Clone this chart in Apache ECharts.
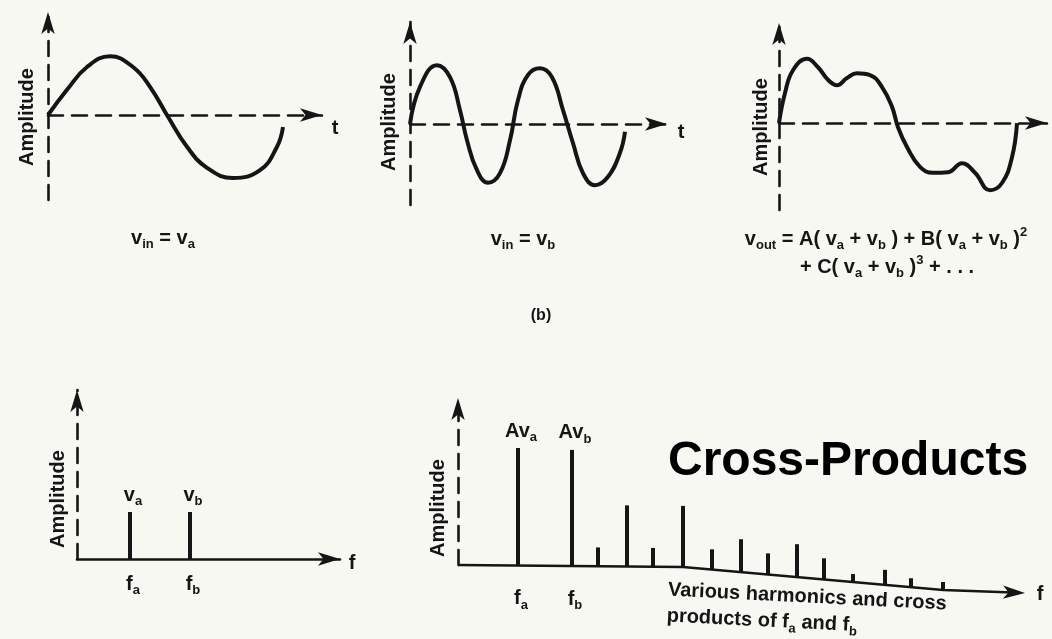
<!DOCTYPE html>
<html>
<head>
<meta charset="utf-8">
<script src="https://cdn.jsdelivr.net/npm/echarts@6/dist/echarts.min.js"></script>
<style>
  html, body { margin: 0; padding: 0; background: #f8f8f3; }
  #chart { width: 1052px; height: 639px; }
</style>
</head>
<body>
<div id="chart"></div>
<script>
// ---------------- DATA ----------------
// (a) input v_a : time (arbitrary units) / normalized amplitude
const timeA = [0, 0.19, 0.39, 0.62, 0.85, 1.02, 1.20, 1.39, 1.59, 1.85, 2.12, 2.29, 2.35];
const ampA  = [0, 0.42, 0.80, 0.98, 0.80, 0.47, -0.03, -0.53, -0.88, -1.05, -0.92, -0.53, -0.20];

// (b) input v_b
const timeB = [0, 0.10, 0.27, 0.40, 0.50, 0.57, 0.67, 0.78, 0.90, 1.00, 1.08, 1.18, 1.30, 1.42, 1.53, 1.63, 1.73, 1.85, 1.98, 2.10, 2.15];
const ampB  = [0, 0.62, 0.98, 0.78, 0.23, -0.27, -0.77, -0.98, -0.82, -0.27, 0.40, 0.82, 0.93, 0.78, 0.23, -0.32, -0.82, -1.02, -0.88, -0.48, -0.13];

// (c) distorted output v_out
const timeOut = [0, 0.06, 0.14, 0.28, 0.39, 0.49, 0.58, 0.68, 0.78, 0.91, 1.03, 1.13, 1.19, 1.28, 1.41, 1.54, 1.69, 1.83, 1.96, 2.11, 2.23, 2.33, 2.38];
const ampOut  = [0, 0.50, 0.88, 1.07, 0.93, 0.72, 0.63, 0.75, 0.83, 0.80, 0.60, 0.27, -0.07, -0.40, -0.73, -0.83, -0.82, -0.67, -0.83, -1.12, -1.00, -0.57, 0];

// input spectrum
const inFreq      = [0.53, 1.13];
const inAmp       = [1.0, 1.0];
const inTopLabels = ['v_a', 'v_b'];
const inFreqLabels = ['f_a', 'f_b'];

// output spectrum (fundamentals, harmonics and cross products)
const outFreq      = [0.60, 1.14, 1.40, 1.69, 1.95, 2.25, 2.54, 2.83, 3.10, 3.39, 3.66, 3.95, 4.27, 4.53, 4.85];
const outAmp       = [2.50, 2.47, 0.40, 1.30, 0.40, 1.30, 0.43, 0.70, 0.45, 0.70, 0.45, 0.17, 0.32, 0.19, 0.17];
const outTopLabels = ['Av_a', 'Av_b'];
const outFreqLabels = ['f_a', 'f_b'];

// texts
const axisTitle = 'Amplitude';
const captionA = 'v_in = v_a';
const captionB = 'v_in = v_b';
const captionOut1 = 'v_out = A( v_a + v_b ) + B( v_a + v_b )^2';
const captionOut2 = '+ C( v_a + v_b )^3 + . . .';
const partLabel = '(b)';
const bigTitle = 'Cross-Products';
const noteLines = ['Various harmonics and cross', 'products of f_a and f_b'];

// ---------------- STYLE / LAYOUT ----------------
const INK = '#151515';
const FONT = '"Liberation Sans", Arial, Helvetica, sans-serif';
const DASH = [15, 9];
const ARROW = [10, 22];
// bend of the scanned page under the output spectrum baseline (pixels)
const BEND_DX = [0, 225, 485, 567];
const BEND_DY = [0, 2, 25, 28];

const RICH = {
  m: { fontSize: 20, fontWeight: 'bold', lineHeight: 26, fontFamily: FONT },
  s: { fontSize: 13, fontWeight: 'bold', lineHeight: 15, fontFamily: FONT, verticalAlign: 'bottom' },
  p: { fontSize: 13, fontWeight: 'bold', lineHeight: 15, fontFamily: FONT, verticalAlign: 'top' }
};

function toRich(str) {
  let out = '', last = 0, m;
  const re = /([_^])(\w+)/g;
  while ((m = re.exec(str))) {
    if (m.index > last) out += '{m|' + str.slice(last, m.index) + '}';
    out += '{' + (m[1] === '_' ? 's' : 'p') + '|' + m[2] + '}';
    last = re.lastIndex;
  }
  if (last < str.length) out += '{m|' + str.slice(last) + '}';
  return out;
}

function bendAt(dx) {
  for (let k = 1; k < BEND_DX.length; k++) {
    if (dx <= BEND_DX[k]) {
      const t = (dx - BEND_DX[k - 1]) / (BEND_DX[k] - BEND_DX[k - 1]);
      return BEND_DY[k - 1] + t * (BEND_DY[k] - BEND_DY[k - 1]);
    }
  }
  return BEND_DY[BEND_DY.length - 1];
}

const zip = (a, b) => a.map((v, i) => [v, b[i]]);

const grids = [
  { left: 48,  top: 12,  width: 274, height: 188 },
  { left: 410, top: 22,  width: 257, height: 183 },
  { left: 779, top: 23,  width: 268, height: 187 },
  { left: 77,  top: 390, width: 263, height: 169 },
  { left: 458, top: 398, width: 567, height: 167 }
];
const xRanges = [[0, 2.74], [0, 2.57], [0, 2.68], [0, 2.63], [0, 5.67]];
const yRanges = [[-1.417, 1.717], [-1.35, 1.70], [-1.45, 1.667], [0, 3.596], [0, 3.553]];

const xAxes = grids.map((g, i) => ({
  gridIndex: i, type: 'value', min: xRanges[i][0], max: xRanges[i][1],
  axisLine: {
    show: i !== 4, onZero: true, symbol: ['none', 'arrow'], symbolSize: ARROW,
    lineStyle: { color: INK, width: 2.6, type: i < 3 ? DASH : 'solid' }
  },
  axisTick: { show: false }, axisLabel: { show: false }, splitLine: { show: false }
}));
const yAxes = grids.map((g, i) => ({
  gridIndex: i, type: 'value', min: yRanges[i][0], max: yRanges[i][1],
  axisLine: {
    show: true, onZero: true, symbol: ['none', 'arrow'], symbolSize: ARROW,
    lineStyle: { color: INK, width: 2.6, type: DASH }
  },
  axisTick: { show: false }, axisLabel: { show: false }, splitLine: { show: false }
}));

function waveSeries(idx, t, a) {
  return {
    type: 'line', xAxisIndex: idx, yAxisIndex: idx, data: zip(t, a),
    smooth: 0.45, showSymbol: false, silent: true,
    lineStyle: { color: INK, width: 4 }
  };
}

function makeSpikes(topLabels, freqLabels, bend, bottomGap) {
  return function (params, api) {
    const i = params.dataIndex;
    const origin = api.coord([0, 0]);
    const base = api.coord([api.value(0), 0]);
    const top = api.coord([api.value(0), api.value(1)]);
    const dy = bend ? bendAt(base[0] - origin[0]) : 0;
    const kids = [{
      type: 'line',
      shape: { x1: base[0], y1: base[1] + dy, x2: top[0], y2: top[1] + dy },
      style: { stroke: INK, lineWidth: 4 }
    }];
    if (topLabels[i]) kids.push({
      type: 'text',
      style: { x: top[0] + 3, y: top[1] + dy - 4, text: toRich(topLabels[i]), rich: RICH,
               fill: INK, align: 'center', verticalAlign: 'bottom' }
    });
    if (freqLabels[i]) kids.push({
      type: 'text',
      style: { x: base[0] + 3, y: base[1] + dy + bottomGap, text: toRich(freqLabels[i]), rich: RICH,
               fill: INK, align: 'center', verticalAlign: 'top' }
    });
    return { type: 'group', children: kids };
  };
}

function baselineRender(params, api) {
  const o = api.coord([0, 0]);
  const e = api.coord([xRanges[4][1], 0]);
  const L = e[0] - o[0];
  const pts = [];
  BEND_DX.forEach((d, k) => { if (d < L - 12) pts.push([o[0] + d, o[1] + BEND_DY[k]]); });
  const tip = [e[0], e[1] + bendAt(L)];
  const prev = [o[0] + L - 40, o[1] + bendAt(L - 40)];
  const ang = Math.atan2(tip[1] - prev[1], tip[0] - prev[0]);
  const c = Math.cos(ang), s = Math.sin(ang);
  const tr = (x, y) => [tip[0] + x * c - y * s, tip[1] + x * s + y * c];
  pts.push(tr(-12, 0));
  const h = ARROW[1], w = ARROW[0] * 2 / 3;
  return {
    type: 'group',
    children: [
      { type: 'polyline', shape: { points: pts }, style: { stroke: INK, lineWidth: 2.6, fill: null } },
      { type: 'polygon', shape: { points: [tr(0, 0), tr(-h, -w), tr(-h * 0.75, 0), tr(-h, w)] },
        style: { fill: INK } }
    ]
  };
}

function txt(x, y, text, opts) {
  opts = opts || {};
  return {
    type: 'text', x: x, y: y, rotation: opts.rotation || 0, silent: true,
    style: Object.assign({
      text: text, fill: INK, font: 'bold ' + (opts.size || 20) + 'px ' + FONT,
      align: opts.align || 'center', verticalAlign: opts.va || 'middle'
    }, opts.rich ? { rich: RICH } : {}, opts.style || {})
  };
}

const option = {
  backgroundColor: '#f8f8f3',
  animation: false,
  grid: grids.map(g => Object.assign({ containLabel: false, outerBoundsMode: 'none' }, g)),
  xAxis: xAxes,
  yAxis: yAxes,
  series: [
    waveSeries(0, timeA, ampA),
    waveSeries(1, timeB, ampB),
    waveSeries(2, timeOut, ampOut),
    {
      type: 'custom', xAxisIndex: 3, yAxisIndex: 3, clip: false, silent: true,
      data: zip(inFreq, inAmp),
      renderItem: makeSpikes(inTopLabels, inFreqLabels, false, 12)
    },
    {
      type: 'custom', xAxisIndex: 4, yAxisIndex: 4, clip: false, silent: true,
      data: [[0, 0]], renderItem: baselineRender
    },
    {
      type: 'custom', xAxisIndex: 4, yAxisIndex: 4, clip: false, silent: true,
      data: zip(outFreq, outAmp),
      renderItem: makeSpikes(outTopLabels, outFreqLabels, true, 20)
    }
  ],
  graphic: [
    txt(27, 117, axisTitle, { rotation: Math.PI / 2 }),
    txt(389, 122, axisTitle, { rotation: Math.PI / 2 }),
    txt(761, 127, axisTitle, { rotation: Math.PI / 2 }),
    txt(58, 499, axisTitle, { rotation: Math.PI / 2 }),
    txt(438, 508, axisTitle, { rotation: Math.PI / 2 }),
    txt(335, 128, 't'),
    txt(681, 132, 't'),
    txt(352, 563, 'f'),
    txt(1040, 594, 'f'),
    txt(163, 238, toRich(captionA), { rich: true }),
    txt(523, 239, toRich(captionB), { rich: true }),
    txt(886, 239, toRich(captionOut1), { rich: true }),
    txt(887, 267, toRich(captionOut2), { rich: true }),
    txt(541, 316, partLabel, { size: 16 }),
    txt(668, 462, bigTitle, { align: 'left', style: { font: 'bold 48px ' + FONT, fill: '#000' } }),
    {
      type: 'group', x: 668, y: 590, rotation: -0.05, silent: true,
      children: [
        txt(0, 0, toRich(noteLines[0]), { rich: true, align: 'left' }),
        txt(0, 26, toRich(noteLines[1]), { rich: true, align: 'left' })
      ]
    }
  ]
};

const chart = echarts.init(document.getElementById('chart'), null, { renderer: 'canvas' });
chart.setOption(option);
</script>
</body>
</html>
